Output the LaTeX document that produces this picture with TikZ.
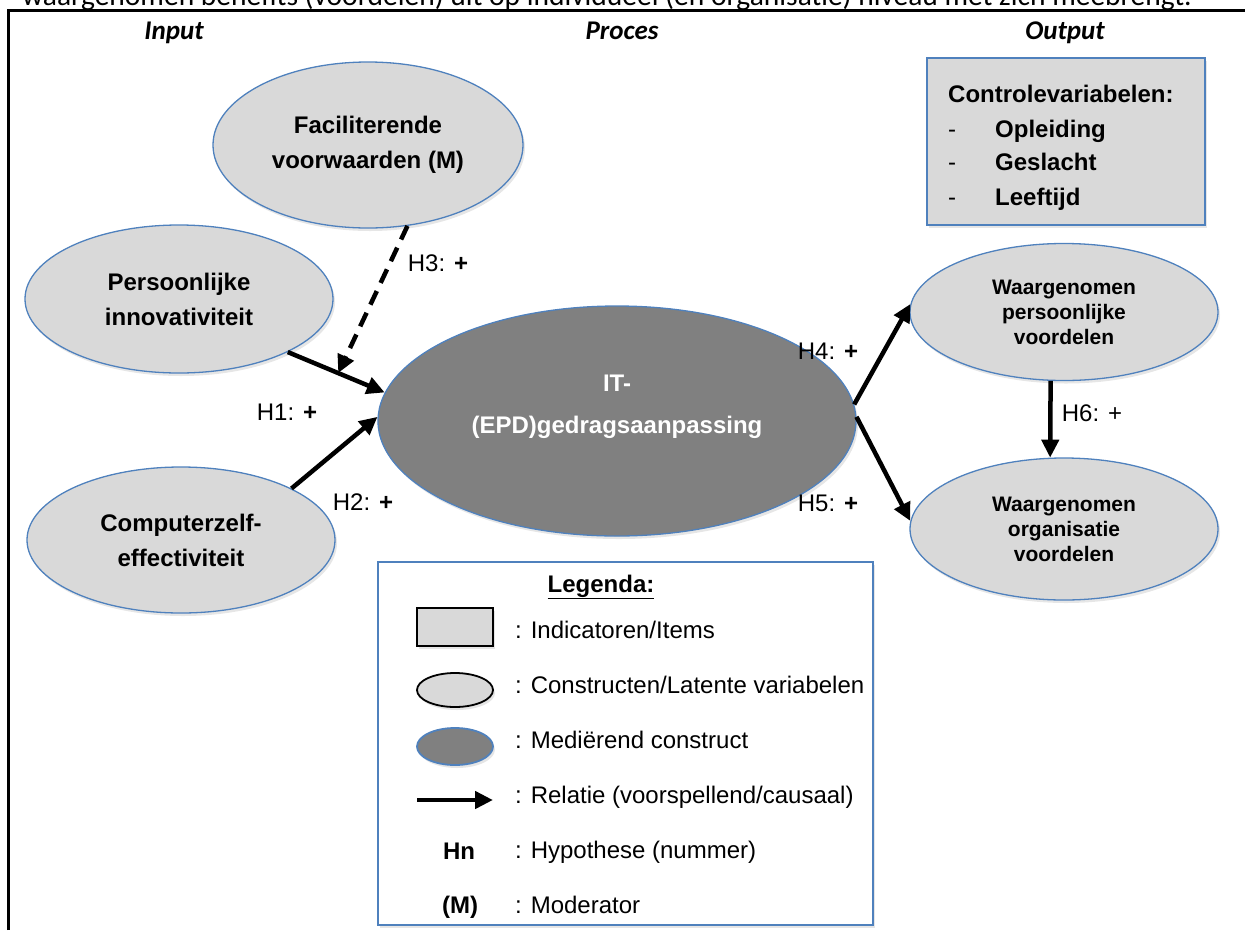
\documentclass[tikz,border=0pt]{standalone}
\usepackage{fontspec}
\setmainfont{Liberation Sans}
\newfontfamily\calibrifont{Carlito}
\usetikzlibrary{shapes.geometric,arrows.meta,shadows}

\definecolor{rimblue}{RGB}{79,129,189}
\definecolor{constgray}{RGB}{217,217,217}
\definecolor{medgray}{RGB}{128,128,128}

\tikzset{
  softshadow/.style={drop shadow={shadow xshift=2pt, shadow yshift=-3pt, opacity=0.2}},
  construct/.style={ellipse, draw=rimblue, line width=1.3pt, fill=constgray, inner sep=0pt, align=center,
    softshadow, font=\bfseries\fontsize{24}{35}\selectfont},
  smallconstruct/.style={construct, font=\bfseries\fontsize{21}{25}\selectfont},
  mediator/.style={construct, fill=medgray},
  relation/.style={line width=4.5pt, -{Triangle[length=18pt,width=17pt]}},
  moderation/.style={relation, dash pattern=on 15pt off 9pt},
  hyp/.style={inner sep=0pt, font=\fontsize{24}{28}\selectfont},
  legtext/.style={anchor=base west, inner sep=0pt, font=\fontsize{24}{28}\selectfont},
  boldtext/.style={anchor=base west, inner sep=0pt, font=\bfseries\fontsize{24}{28}\selectfont},
  heading/.style={anchor=base, inner sep=0pt, font=\calibrifont\bfseries\itshape\fontsize{27}{32}\selectfont},
}

\begin{document}
\begin{tikzpicture}[x=1pt,y=1pt,yscale=-1,xscale=1]
\useasboundingbox (0,0) rectangle (1245,930);

%Text above the frame (cut off at the top)
\node[anchor=base west, inner sep=0pt, font=\calibrifont\fontsize{29.5}{36}\selectfont] (pretext) at (22,5) {waargenomen benefits (voordelen) uit op individueel (en organisatie) niveau met zich meebrengt.};

%Frame
\draw [line width=3pt] (8,930) -- (8,10) -- (1245,10) ;

%Headings
\node[heading] (hinput) at (174,39) {Input};
\node[heading] (hproces) at (622,39) {Proces};
\node[heading] (houtput) at (1065,39) {Output};

%Constructs
\node[construct, minimum width=310pt, minimum height=166pt] (facil) at (368,145) {Faciliterende\\voorwaarden (M)};
\node[construct, minimum width=308pt, minimum height=148pt] (persoon) at (179,299) {Persoonlijke\\innovativiteit};
\node[construct, minimum width=308pt, minimum height=146pt] (comp) at (181,540) {Computerzelf-\\effectiviteit};
\node[smallconstruct, minimum width=308pt, minimum height=137pt] (wpers) at (1064,312) {Waargenomen\\persoonlijke\\voordelen};
\node[smallconstruct, minimum width=308pt, minimum height=142pt] (worg) at (1064,529) {Waargenomen\\organisatie\\voordelen};

%Mediator
\node[mediator, minimum width=478pt, minimum height=230pt] (it) at (617,421) {};
\node[text=white, align=center, font=\bfseries\fontsize{24}{42}\selectfont] (itlabel) at (617,407) {IT-\\(EPD)gedragsaanpassing};

%Relations
\draw[relation] (persoon.-26) -- (it.173) coordinate[pos=0.52] (h3end);
\draw[relation] (comp.25) -- (it.179);
\draw[moderation] (facil.-64) -- (h3end);
\draw[relation] (it.4) -- (wpers.177);
\draw[relation] (it.1) -- (worg.177);
\draw[relation] (wpers.-101) -- (worg.101);

%Hypotheses
\node[hyp] (h1) at (287,412) {H1: \textbf{+}};
\node[hyp] (h2) at (363,502) {H2: \textbf{+}};
\node[hyp] (h3) at (438,263) {H3: \textbf{+}};
\node[hyp] (h4) at (828,351) {H4: \textbf{+}};
\node[hyp] (h5) at (828,503) {H5: \textbf{+}};
\node[hyp] (h6) at (1092,413) {H6: +};

%Control variables
\draw [draw=rimblue, line width=1.3pt, fill=constgray, softshadow] (927,58) rectangle (1205,225) ;
\node[boldtext] (ctitle) at (948,102) {Controlevariabelen:};
\node[legtext] (cdash1) at (948,137) {-};
\node[legtext] (cdash2) at (948,170) {-};
\node[legtext] (cdash3) at (948,205) {-};
\node[boldtext] (copl) at (995,137) {Opleiding};
\node[boldtext] (cgesl) at (995,170) {Geslacht};
\node[boldtext] (cleef) at (995,205) {Leeftijd};

%Legend
\draw [draw=rimblue, line width=1.3pt, fill=white, softshadow] (378,562) rectangle (873,925) ;
\node[anchor=base, inner sep=0pt, font=\bfseries\fontsize{24}{28}\selectfont] (legtitle) at (601,592) {\underline{Legenda:}};
\node[draw=black, line width=1.8pt, fill=constgray, minimum width=76pt, minimum height=38pt, softshadow] (legrect) at (455,627) {};
\node[construct, draw=black, line width=1.8pt, minimum width=76pt, minimum height=34pt] (legell) at (455,690) {};
\node[mediator, line width=1.8pt, minimum width=76pt, minimum height=37pt] (legmed) at (455,746.5) {};
\coordinate (legarrowA) at (417,800);
\coordinate (legarrowB) at (493,800);
\draw[relation] (legarrowA) -- (legarrowB);
\node[anchor=base, inner sep=0pt, font=\bfseries\fontsize{24}{28}\selectfont] (leghn) at (459,859) {Hn};
\node[anchor=base, inner sep=0pt, font=\bfseries\fontsize{24}{28}\selectfont] (legm) at (460,913) {(M)};
\node[legtext] (t1) at (515,638) {: Indicatoren/Items};
\node[legtext] (t2) at (515,693) {: Constructen/Latente variabelen};
\node[legtext] (t3) at (515,748) {: Mediërend construct};
\node[legtext] (t4) at (515,803) {: Relatie (voorspellend/causaal)};
\node[legtext] (t5) at (515,858) {: Hypothese (nummer)};
\node[legtext] (t6) at (515,913) {: Moderator};

\end{tikzpicture}
\end{document}
